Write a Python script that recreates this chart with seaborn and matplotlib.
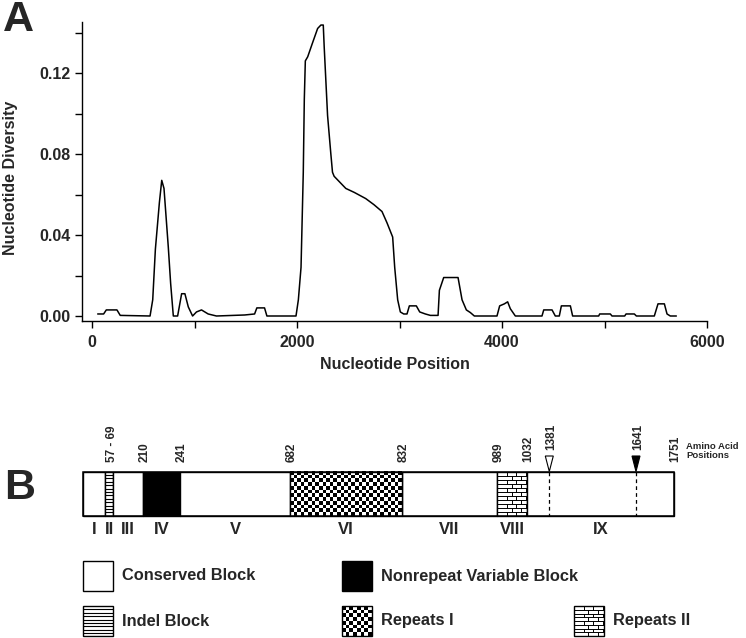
import numpy as np
import pandas as pd
import matplotlib
matplotlib.use("Agg")
import matplotlib.pyplot as plt
import seaborn as sns
from matplotlib import font_manager
from matplotlib.patches import Rectangle, Polygon

# ---------------- data ----------------
position = [55, 113, 139, 243, 275, 566, 592, 618, 657, 680, 702, 744, 767, 793, 835,
            874, 906, 939, 981, 1019, 1068, 1133, 1214, 1489, 1586, 1608, 1683, 1706,
            1990, 2013, 2039, 2061, 2071, 2081, 2104, 2152, 2201, 2233, 2256, 2265,
            2298, 2330, 2346, 2362, 2476, 2560, 2670, 2750, 2829, 2878, 2933, 2953,
            2982, 3008, 3041, 3073, 3096, 3164, 3197, 3252, 3301, 3376, 3389, 3431,
            3571, 3610, 3652, 3691, 3730, 3951, 3977, 4023, 4055, 4081, 4130, 4390,
            4407, 4488, 4520, 4559, 4579, 4667, 4689, 4943, 4953, 5057, 5073, 5197,
            5210, 5291, 5311, 5486, 5522, 5584, 5610, 5642, 5701]
diversity = [0.001, 0.001, 0.003, 0.003, 0.0003, 0.0, 0.008, 0.033, 0.056, 0.067, 0.063,
             0.034, 0.016, 0.0, 0.0, 0.011, 0.011, 0.0045, 0.0, 0.002, 0.003, 0.001, 0.0,
             0.0005, 0.001, 0.004, 0.004, 0.0, 0.0, 0.008, 0.024, 0.071, 0.107, 0.126,
             0.128, 0.135, 0.142, 0.1437, 0.1437, 0.133, 0.099, 0.080, 0.071, 0.069,
             0.063, 0.061, 0.058, 0.055, 0.0516, 0.046, 0.039, 0.024, 0.008, 0.002,
             0.001, 0.001, 0.005, 0.005, 0.002, 0.001, 0.0003, 0.0003, 0.0127, 0.019,
             0.019, 0.008, 0.003, 0.0017, 0.0, 0.0, 0.005, 0.006, 0.007, 0.0036, 0.0,
             0.0, 0.003, 0.003, 0.0, 0.0, 0.005, 0.005, 0.0, 0.0, 0.001, 0.001, 0.0,
             0.0, 0.001, 0.001, 0.0, 0.0, 0.006, 0.006, 0.001, 0.0, 0.0]

x_ticks = [0, 1000, 2000, 3000, 4000, 5000, 6000]
x_tick_labels = ["0", "", "2000", "", "4000", "", "6000"]
y_ticks = [0.00, 0.02, 0.04, 0.06, 0.08, 0.10, 0.12, 0.14]
y_tick_labels = ["0.00", "", "0.04", "", "0.08", "", "0.12", ""]

block_names = ["I", "II", "III", "IV", "V", "VI", "VII", "VIII", "IX"]
block_types = ["conserved", "indel", "conserved", "nonrepeat", "conserved",
               "repeats1", "conserved", "repeats2", "conserved"]
edge_labels = ["210", "241", "682", "832", "989", "1032"]
indel_label = "57 - 69"
marker_labels = ["1381", "1641"]
end_label = "1751"
legend_labels = ["Conserved Block", "Nonrepeat Variable Block", "Indel Block",
                 "Repeats I", "Repeats II"]
legend_types = ["conserved", "nonrepeat", "indel", "repeats1", "repeats2"]

# ---------------- layout (pixels) ----------------
W, H = 746, 638
block_edges_px = [83.3, 105.3, 113.3, 142.7, 180.0, 290.0, 401.7, 497.3, 526.7, 674.3]
marker_px = [549.3, 636.0]
bar_top, bar_bot = 471.7, 516.0
legend_pos = [(83, 561), (342, 561), (83, 606), (342, 606), (574, 606)]
SW = 30
FS = 11.5

# ---------------- fonts ----------------
names = {f.name for f in font_manager.fontManager.ttflist}
narrow = "Liberation Sans Narrow" if "Liberation Sans Narrow" in names else "Liberation Sans"
wide = "Liberation Sans" if "Liberation Sans" in names else "DejaVu Sans"

sns.set_style("ticks")
plt.rcParams["font.family"] = [narrow, "DejaVu Sans"]
plt.rcParams["font.weight"] = "bold"

fig = plt.figure(figsize=(W / 100, H / 100), dpi=100)
fig.patch.set_facecolor("white")

# background drawing axes in pixel coordinates
ax2 = fig.add_axes([0, 0, 1, 1])
ax2.set_xlim(0, W)
ax2.set_ylim(H, 0)
ax2.axis("off")
ax2.patch.set_visible(False)

# ---------------- panel A ----------------
L, R, T, B = 82, 707, 22, 321
ax1 = fig.add_axes([L / W, 1 - B / H, (R - L) / W, (B - T) / H])
ax1.patch.set_visible(False)
df = pd.DataFrame({"Nucleotide Position": position, "Nucleotide Diversity": diversity})
sns.lineplot(data=df, x="Nucleotide Position", y="Nucleotide Diversity", ax=ax1,
             color="black", lw=1.1, estimator=None)
ax1.set_xlim(-98, 6000)
ax1.set_ylim(-0.00247, 0.1452)
ax1.set_xticks(x_ticks)
ax1.set_xticklabels(x_tick_labels)
ax1.set_yticks(y_ticks)
ax1.set_yticklabels(y_tick_labels)
for s in ["top", "right"]:
    ax1.spines[s].set_visible(False)
for s in ["left", "bottom"]:
    ax1.spines[s].set_linewidth(1.0)
    ax1.spines[s].set_color("black")
ax1.tick_params(axis="both", direction="out", length=5, width=1.0, color="black",
                labelsize=FS)
ax1.tick_params(axis="x", pad=5)
ax1.tick_params(axis="y", pad=3)
for lab in ax1.get_xticklabels() + ax1.get_yticklabels():
    lab.set_fontweight("bold")
ax1.set_xlabel("Nucleotide Position", fontsize=FS, fontweight="bold")
ax1.set_ylabel("Nucleotide Diversity", fontsize=FS, fontweight="bold")
ax1.xaxis.set_label_coords(0.5, -(357 - 321) / (B - T))
ax1.yaxis.set_label_coords(-(82 - 18) / (R - L), (321 - 178) / (B - T))

ax2.text(3, 20, "A", fontsize=31, fontweight="bold", family=[wide], ha="left", va="center")
ax2.text(4, 488, "B", fontsize=31, fontweight="bold", family=[wide], ha="left", va="center")

# ---------------- panel B ----------------
def draw_block(ax, x0, x1, y0, y1, kind, cell=3.6):
    w, h = x1 - x0, y1 - y0
    if kind == "conserved":
        ax.add_patch(Rectangle((x0, y0), w, h, facecolor="white", edgecolor="black", lw=1))
    elif kind == "nonrepeat":
        ax.add_patch(Rectangle((x0, y0), w, h, facecolor="black", edgecolor="black", lw=1))
    elif kind == "indel":
        ax.add_patch(Rectangle((x0, y0), w, h, facecolor="white", edgecolor="black", lw=1))
        yy = y0 + 3.4
        while yy < y1 - 0.5:
            ax.plot([x0, x1], [yy, yy], color="black", lw=0.8)
            yy += 3.4
    elif kind == "repeats1":
        nx = max(1, int(round(w / cell)))
        ny = max(1, int(round(h / cell)))
        arr = (np.add.outer(np.arange(ny), np.arange(nx)) % 2).astype(float)
        ax.imshow(arr, cmap="gray", extent=(x0, x1, y1, y0), interpolation="nearest",
                  aspect="auto", zorder=2)
        ax.add_patch(Rectangle((x0, y0), w, h, facecolor="none", edgecolor="black", lw=1,
                               zorder=3))
    elif kind == "repeats2":
        ax.add_patch(Rectangle((x0, y0), w, h, facecolor="white", edgecolor="black", lw=1))
        rh = 4.0
        bw = 9.5
        rows = int(round(h / rh))
        rh = h / rows
        for r in range(rows):
            ya, yb = y0 + r * rh, y0 + (r + 1) * rh
            if r > 0:
                ax.plot([x0, x1], [ya, ya], color="black", lw=0.7)
            off = (bw / 2) if r % 2 else 0
            xx = x0 + off + bw
            while xx < x1 - 0.5:
                ax.plot([xx, xx], [ya, yb], color="black", lw=0.7)
                xx += bw

for i, kind in enumerate(block_types):
    draw_block(ax2, block_edges_px[i], block_edges_px[i + 1], bar_top, bar_bot, kind)
ax2.add_patch(Rectangle((block_edges_px[0], bar_top), block_edges_px[-1] - block_edges_px[0],
                        bar_bot - bar_top, facecolor="none", edgecolor="black", lw=1.1, zorder=4))

# block roman numerals
for i, nm in enumerate(block_names):
    xc = (block_edges_px[i] + block_edges_px[i + 1]) / 2
    ax2.text(xc, 530, nm, fontsize=FS + 0.5, fontweight="bold", ha="center", va="center")

# position labels
lab_y = 462
NFS = 8.5
ax2.text((block_edges_px[1] + block_edges_px[2]) / 2 + 2.5, lab_y, indel_label, rotation=90,
         fontsize=NFS, fontweight="bold", ha="center", va="bottom")
for lab, xe in zip(edge_labels, block_edges_px[3:9]):
    ax2.text(xe + 1.5, lab_y, lab, rotation=90, fontsize=NFS, fontweight="bold",
             ha="center", va="bottom")
ax2.text(block_edges_px[-1] + 0.5, lab_y, end_label, rotation=90, fontsize=NFS,
         fontweight="bold", ha="center", va="bottom")
ax2.text(686, 451, "Amino Acid\nPositions", fontsize=6.8, fontweight="bold",
         ha="left", va="center", linespacing=0.95, multialignment="left")

# markers
for j, (lab, xm) in enumerate(zip(marker_labels, marker_px)):
    ax2.plot([xm, xm], [bar_top, bar_bot], color="black", lw=0.9, ls=(0, (3, 2.5)), zorder=5)
    tri = Polygon([(xm - 4, 456), (xm + 4, 456), (xm, 471.5)], closed=True,
                  facecolor="white" if j == 0 else "black", edgecolor="black", lw=0.8,
                  zorder=5)
    ax2.add_patch(tri)
    ax2.text(xm + 2, 450, lab, rotation=90, fontsize=NFS, fontweight="bold",
             ha="center", va="bottom")

# legend
for (lx, ly), lab, kind in zip(legend_pos, legend_labels, legend_types):
    draw_block(ax2, lx, lx + SW, ly, ly + SW, kind, cell=3.75)
    ax2.text(lx + SW + 9, ly + SW / 2, lab, fontsize=FS + 0.3, fontweight="bold",
             ha="left", va="center")

ax2.set_xlim(0, W)
ax2.set_ylim(H, 0)

fig.savefig("out.png", dpi=100, facecolor="white")
